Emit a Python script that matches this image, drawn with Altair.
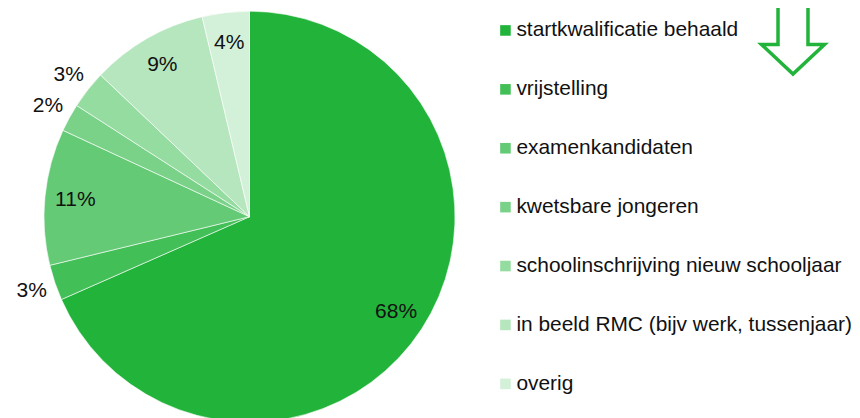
import altair as alt
import pandas as pd

categories = [
    "startkwalificatie behaald",
    "vrijstelling",
    "examenkandidaten",
    "kwetsbare jongeren",
    "schoolinschrijving nieuw schooljaar",
    "in beeld RMC (bijv werk, tussenjaar)",
    "overig",
]
values = [68.4, 2.8, 10.7, 2.2, 3.0, 9.2, 3.7]
labels = ["68%", "3%", "11%", "2%", "3%", "9%", "4%"]
colors = ["#22B43A", "#43BF58", "#64CA75", "#7AD289", "#95DCA1", "#B5E6BD", "#D3F0D8"]

# labels of thin slices sit outside the pie
outside = [False, True, False, True, True, False, False]
R = 205.5
R_IN = 175
R_OUT = 230
TOTAL = sum(values)

df = pd.DataFrame({
    "cat": categories,
    "value": values,
    "label": labels,
    "idx": list(range(len(categories))),
    "lr": [R_OUT if o else R_IN for o in outside],
})

CX, CY = 241.5, 208.7
FONT = "Liberation Sans"
theta_scale = alt.Scale(domain=[0, TOTAL])

base = alt.Chart(df)

pie = base.mark_arc(radius=R, stroke="white", strokeWidth=0.6).encode(
    theta=alt.Theta("value:Q", stack=True, scale=theta_scale),
    order=alt.Order("idx:Q"),
    color=alt.Color(
        "cat:N",
        scale=alt.Scale(domain=categories, range=colors),
        sort=categories,
        legend=alt.Legend(
            title=None,
            orient="none",
            legendX=487,
            legendY=12,
            padding=0,
            symbolType="square",
            symbolSize=112,
            symbolStrokeWidth=0,
            labelFont=FONT,
            labelFontSize=20.9,
            labelColor="#111111",
            labelOffset=0.5,
            rowPadding=36.9,
            labelLimit=400,
        ),
    ),
    x=alt.value(CX),
    y=alt.value(CY),
)

text = base.transform_window(
    cum="sum(value)", sort=[alt.SortField("idx")], frame=[None, 0]
).transform_calculate(
    mid="datum.cum - datum.value / 2"
).mark_text(font=FONT, fontSize=21, color="#111111", baseline="middle", align="center").encode(
    theta=alt.Theta("mid:Q", stack=None, scale=theta_scale),
    radius=alt.Radius("lr:Q", scale=None),
    text="label:N",
    x=alt.value(CX),
    y=alt.value(CY),
)

arrow_path = "M -0.333 -1 L -0.333 0.322 L -0.7 0.322 L 0 0.978 L 0.7 0.322 L 0.333 0.322 L 0.333 -1 Z"
arrow = alt.Chart(pd.DataFrame({"a": [0]})).mark_point(
    shape=arrow_path, size=8100, filled=False, stroke="#22B43A", strokeWidth=3.5, opacity=1
).encode(x=alt.value(785), y=alt.value(22))

chart = alt.layer(pie, text, arrow).properties(
    width=844, height=410,
    autosize=alt.AutoSizeParams(type="none"),
    padding=0,
).configure_view(stroke=None)

chart.save("out.html", embed_options={"renderer": "svg", "actions": False})
